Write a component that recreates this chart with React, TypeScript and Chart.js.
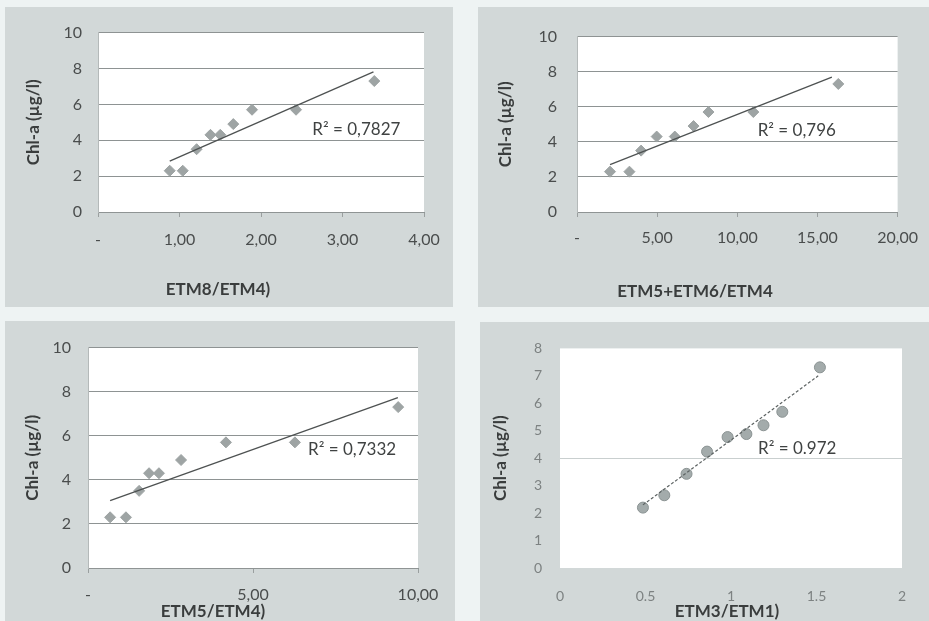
import React, { useEffect, useRef } from "react";
import { Chart, registerables } from "chart.js";
Chart.register(...registerables);

const FONT = "Lato, 'Open Sans', sans-serif";

// Chl-a values (µg/l)
const chlA = [2.3, 2.3, 3.5, 4.3, 4.3, 4.9, 5.7, 5.7, 7.3];

// Panel 1: ETM8/ETM4
const p1X = [0.88, 1.04, 1.21, 1.38, 1.5, 1.66, 1.89, 2.43, 3.39];
const p1TrendX = [0.88, 3.38];
const p1TrendY = [2.84, 7.81];
const p1XTicks = [0, 1, 2, 3, 4];
const p1XLabels = ["-", "1,00", "2,00", "3,00", "4,00"];

// Panel 2: ETM5+ETM6/ETM4
const p2X = [2.06, 3.27, 4.0, 4.97, 6.1, 7.27, 8.2, 11.0, 16.3];
const p2TrendX = [2.06, 15.9];
const p2TrendY = [2.7, 7.69];
const p2XTicks = [0, 5, 10, 15, 20];
const p2XLabels = ["-", "5,00", "10,00", "15,00", "20,00"];

// Panel 3: ETM5/ETM4
const p3X = [0.67, 1.15, 1.55, 1.85, 2.15, 2.82, 4.18, 6.27, 9.4];
const p3TrendX = [0.67, 9.39];
const p3TrendY = [3.06, 7.73];
const p3XTicks = [0, 5, 10];
const p3XLabels = ["-", "5,00", "10,00"];

// Panel 4: ETM3/ETM1
const p4X = [0.485, 0.61, 0.74, 0.86, 0.98, 1.09, 1.19, 1.3, 1.52];
const p4Y = [2.2, 2.65, 3.43, 4.24, 4.77, 4.88, 5.2, 5.69, 7.31];
const p4TrendX = [0.485, 1.51];
const p4TrendY = [2.3, 7.0];
const p4XTicks = [0, 0.5, 1, 1.5, 2];
const p4XLabels = ["0", "0.5", "1", "1.5", "2"];

const yTicks10 = [0, 2, 4, 6, 8, 10];
const yLabels10 = ["0", "2", "4", "6", "8", "10"];
const yTicks8 = [0, 1, 2, 3, 4, 5, 6, 7, 8];
const yLabels8 = ["0", "1", "2", "3", "4", "5", "6", "7", "8"];

const yTitle = "Chl-a (µg/l)";

const textPlugin = {
  id: "extraText",
  beforeDraw(chart: any, _a: any, opts: any) {
    const { ctx, chartArea } = chart;
    ctx.save();
    ctx.fillStyle = "#ffffff";
    ctx.fillRect(chartArea.left, chartArea.top, chartArea.right - chartArea.left, chartArea.bottom - chartArea.top);
    ctx.restore();
  },
  afterDraw(chart: any, _a: any, opts: any) {
    const ctx = chart.ctx;
    ctx.save();
    ctx.fillStyle = "#3a3d3d";
    ctx.font = `bold 17px ${FONT}`;
    ctx.textAlign = "center";
    ctx.textBaseline = "middle";
    ctx.fillText(opts.xTitle, opts.xTitleX, opts.xTitleY);
    const px = chart.scales.x.getPixelForValue(opts.r2X);
    const py = chart.scales.y.getPixelForValue(opts.r2Y);
    ctx.font = `17px ${FONT}`;
    ctx.fillStyle = "#3f4242";
    ctx.textAlign = "left";
    ctx.fillText(opts.r2Text, px, py);
    ctx.restore();
  },
};

type PanelCfg = {
  left: number; top: number; width: number; height: number;
  padTop: number; padRight: number; yWidth: number; xHeight: number;
  xs: number[]; ys: number[]; trendX: number[]; trendY: number[];
  xTicks: number[]; xLabels: string[]; yTicks: number[]; yLabels: string[];
  yTitlePad: number; yLabelPad: number; xLabelPad: number; xTickLen: number;
  xTitle: string; xTitleX: number; xTitleY: number;
  r2Text: string; r2X: number; r2Y: number;
  circle?: boolean;
};

function Panel({ cfg }: { cfg: PanelCfg }) {
  const ref = useRef<HTMLCanvasElement>(null);
  useEffect(() => {
    const c = cfg;
    const pts = c.xs.map((x, i) => ({ x, y: c.ys[i] }));
    const trend = c.trendX.map((x, i) => ({ x, y: c.trendY[i] }));
    const alt = !!c.circle;
    const chart = new Chart(ref.current!, {
      type: "scatter",
      data: {
        datasets: [
          {
            data: pts,
            pointStyle: alt ? "circle" : "rectRot",
            pointRadius: alt ? 5.5 : 5.5,
            backgroundColor: alt ? "#a3abab" : "#9ea4a4",
            borderColor: alt ? "#8c9494" : "#9ea4a4",
            borderWidth: 1,
            order: 2,
          } as any,
          {
            type: "line",
            data: trend,
            showLine: true,
            pointRadius: 0,
            borderColor: alt ? "#5c6262" : "#4e5252",
            borderWidth: alt ? 1.2 : 1.3,
            borderDash: alt ? [3, 2] : [],
            fill: false,
            order: 1,
          } as any,
        ],
      },
      options: {
        animation: false,
        responsive: false,
        devicePixelRatio: 1,
        layout: { padding: { left: 0, top: c.padTop, right: c.padRight, bottom: 0 } },
        plugins: {
          legend: { display: false },
          tooltip: { enabled: false },
          extraText: {
            xTitle: c.xTitle, xTitleX: c.xTitleX, xTitleY: c.xTitleY,
            r2Text: c.r2Text, r2X: c.r2X, r2Y: c.r2Y,
          },
        } as any,
        scales: {
          x: {
            type: "linear",
            min: c.xTicks[0],
            max: c.xTicks[c.xTicks.length - 1],
            afterBuildTicks: (s: any) => { s.ticks = c.xTicks.map((v) => ({ value: v })); },
            afterFit: (s: any) => { s.height = c.xHeight; },
            grid: {
              display: true,
              drawOnChartArea: false,
              drawTicks: c.xTickLen > 0,
              tickLength: c.xTickLen,
              color: "#9a9f9f",
            },
            border: { display: !alt, color: "#8f9494", width: 1 },
            ticks: {
              padding: c.xLabelPad,
              maxRotation: 0,
              autoSkip: false,
              color: alt ? "#7d8282" : "#4a4d4d",
              font: { family: FONT, size: alt ? 14 : 16 },
              callback: (v: any) => {
                const i = c.xTicks.indexOf(Number(v));
                return i >= 0 ? c.xLabels[i] : "";
              },
            },
          },
          y: {
            type: "linear",
            min: c.yTicks[0],
            max: c.yTicks[c.yTicks.length - 1],
            afterBuildTicks: (s: any) => { s.ticks = c.yTicks.map((v) => ({ value: v })); },
            afterFit: (s: any) => { s.width = c.yWidth; },
            grid: {
              drawTicks: false,
              color: alt
                ? (ctx: any) => (ctx.tick && ctx.tick.value === 4 ? "#c9cfcf" : "rgba(0,0,0,0)")
                : "#8e9393",
              lineWidth: 1,
            },
            border: { display: !alt, color: "#b4b9b9", width: 1 },
            ticks: {
              padding: c.yLabelPad,
              autoSkip: false,
              color: alt ? "#7d8282" : "#4a4d4d",
              font: { family: FONT, size: alt ? 14 : 16 },
              callback: (v: any) => {
                const i = c.yTicks.indexOf(Number(v));
                return i >= 0 ? c.yLabels[i] : "";
              },
            },
            title: {
              display: true,
              text: yTitle,
              color: "#3a3d3d",
              font: { family: FONT, size: 17, weight: "bold" },
              padding: { top: c.yTitlePad, bottom: 0 },
            },
          },
        },
      },
      plugins: [textPlugin as any],
    });
    return () => chart.destroy();
  }, [cfg]);
  return (
    <div
      style={{
        position: "absolute",
        left: cfg.left,
        top: cfg.top,
        width: cfg.width,
        height: cfg.height,
        background: "#d2d8d8",
      }}
    >
      <canvas ref={ref} width={cfg.width} height={cfg.height} style={{ display: "block" }} />
    </div>
  );
}

const panels: PanelCfg[] = [
  {
    left: 5, top: 7, width: 448, height: 300,
    padTop: 22, padRight: 29, yWidth: 93, xHeight: 95,
    xs: p1X, ys: chlA, trendX: p1TrendX, trendY: p1TrendY,
    xTicks: p1XTicks, xLabels: p1XLabels, yTicks: yTicks10, yLabels: yLabels10,
    yTitlePad: 18, yLabelPad: 16, xLabelPad: 13, xTickLen: 5,
    xTitle: "ETM8/ETM4)", xTitleX: 213, xTitleY: 283,
    r2Text: "R² = 0,7827", r2X: 2.63, r2Y: 4.6,
  },
  {
    left: 478, top: 7, width: 451, height: 300,
    padTop: 19, padRight: 22, yWidth: 99, xHeight: 95,
    xs: p2X, ys: chlA, trendX: p2TrendX, trendY: p2TrendY,
    xTicks: p2XTicks, xLabels: p2XLabels, yTicks: yTicks10, yLabels: yLabels10,
    yTitlePad: 17, yLabelPad: 20, xLabelPad: 11, xTickLen: 5,
    xTitle: "ETM5+ETM6/ETM4", xTitleX: 217, xTitleY: 285,
    r2Text: "R² = 0,796", r2X: 11.27, r2Y: 4.62,
  },
  {
    left: 5, top: 321, width: 450, height: 300,
    padTop: 18, padRight: 37, yWidth: 83, xHeight: 53,
    xs: p3X, ys: chlA, trendX: p3TrendX, trendY: p3TrendY,
    xTicks: p3XTicks, xLabels: p3XLabels, yTicks: yTicks10, yLabels: yLabels10,
    yTitlePad: 17, yLabelPad: 17, xLabelPad: 12, xTickLen: 5,
    xTitle: "ETM5/ETM4)", xTitleX: 208, xTitleY: 291,
    r2Text: "R² = 0,7332", r2X: 6.67, r2Y: 5.37,
  },
  {
    left: 480, top: 322, width: 449, height: 299,
    padTop: 20, padRight: 27, yWidth: 80, xHeight: 53,
    xs: p4X, ys: p4Y, trendX: p4TrendX, trendY: p4TrendY,
    xTicks: p4XTicks, xLabels: p4XLabels, yTicks: yTicks8, yLabels: yLabels8,
    yTitlePad: 10, yLabelPad: 18, xLabelPad: 20, xTickLen: 0,
    xTitle: "ETM3/ETM1)", xTitleX: 247, xTitleY: 290,
    r2Text: "R² = 0.972", r2X: 1.158, r2Y: 4.35,
    circle: true,
  },
];

export default function App() {
  useEffect(() => {
    document.body.style.margin = "0";
  }, []);
  return (
    <div style={{ position: "relative", width: 929, height: 621, overflow: "hidden", background: "#eef3f3" }}>
      {panels.map((p, i) => (
        <Panel key={i} cfg={p} />
      ))}
    </div>
  );
}
